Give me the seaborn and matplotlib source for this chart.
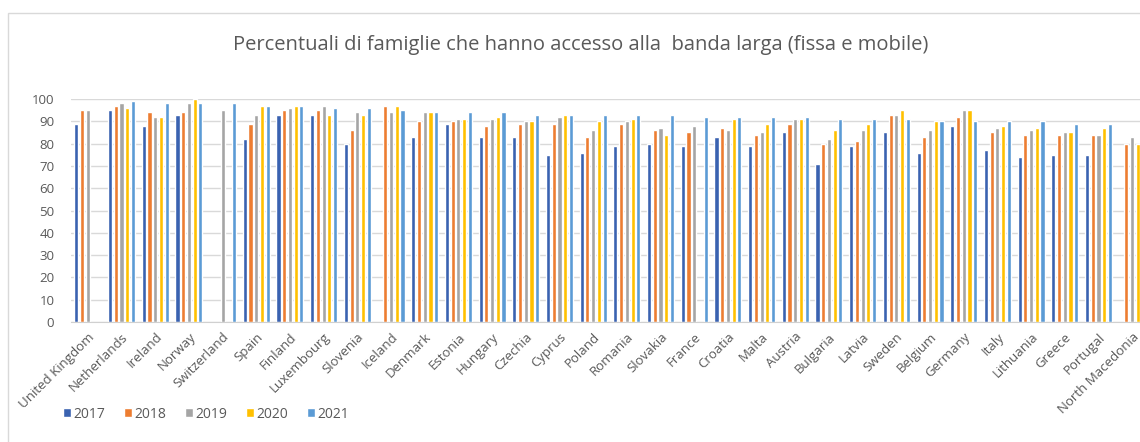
import numpy as np
import pandas as pd
import matplotlib
matplotlib.use("Agg")
import matplotlib.pyplot as plt
from matplotlib.patches import Rectangle
import seaborn as sns

nan = np.nan

countries = ["United Kingdom", "Netherlands", "Ireland", "Norway", "Switzerland", "Spain",
             "Finland", "Luxembourg", "Slovenia", "Iceland", "Denmark", "Estonia", "Hungary",
             "Czechia", "Cyprus", "Poland", "Romania", "Slovakia", "France", "Croatia", "Malta",
             "Austria", "Bulgaria", "Latvia", "Sweden", "Belgium", "Germany", "Italy",
             "Lithuania", "Greece", "Portugal", "North Macedonia"]

years = ["2017", "2018", "2019", "2020", "2021"]

y2017 = [89, 95, 88, 93, nan, 82, 93, 93, 80, nan, 83, 89, 83, 83, 75, 76, 79, 80, 79, 83,
         79, 85, 71, 79, 85, 76, 88, 77, 74, 75, 75, nan]
y2018 = [95, 97, 94, 94, nan, 89, 95, 95, 86, 97, 90, 90, 88, 89, 89, 83, 89, 86, 85, 87,
         84, 89, 80, 81, 93, 83, 92, 85, 84, 84, 84, 80]
y2019 = [95, 98, 92, 98, 95, 93, 96, 97, 94, 94, 94, 91, 91, 90, 92, 86, 90, 87, 88, 86,
         85, 91, 82, 86, 93, 86, 95, 87, 86, 85, 84, 83]
y2020 = [nan, 96, 92, 100, nan, 97, 97, 93, 93, 97, 94, 91, 92, 90, 93, 90, 91, 84, nan, 91,
         89, 91, 86, 89, 95, 90, 95, 88, 87, 85, 87, 80]
y2021 = [nan, 99, 98, 98, 98, 97, 97, 96, 96, 95, 94, 94, 94, 93, 93, 93, 93, 93, 92, 92,
         92, 92, 91, 91, 91, 90, 90, 90, 90, 89, 89, nan]

colors = ["#3A62B0", "#ED7D31", "#A5A5A5", "#FFC000", "#5B9BD5"]

title = "Percentuali di famiglie che hanno accesso alla  banda larga (fissa e mobile)"

series = {"2017": y2017, "2018": y2018, "2019": y2019, "2020": y2020, "2021": y2021}
rows = []
for yr in years:
    for c, v in zip(countries, series[yr]):
        rows.append({"country": c, "year": yr, "value": v})
df = pd.DataFrame(rows)

sns.set_style("white")
plt.rcParams["font.family"] = ["Open Sans", "DejaVu Sans"]

W, H = 1140, 442
fig = plt.figure(figsize=(W / 100, H / 100), dpi=100)
fig.patch.set_facecolor("white")

# chart border
fig.add_artist(Rectangle((8 / W, -0.05), 1.2, (H - 13) / H + 0.05,
                         transform=fig.transFigure, fill=False,
                         edgecolor="#D9D9D9", linewidth=1.0))

left_px, right_px = 71, 1149
top_px, bot_px = 99, 322
ax = fig.add_axes([left_px / W, (H - bot_px) / H, (right_px - left_px) / W, (bot_px - top_px) / H])

sns.barplot(data=df, x="country", y="value", hue="year", hue_order=years,
            order=countries, palette=colors, width=0.85, gap=0.28,
            errorbar=None, saturation=1, ax=ax, zorder=3)

ax.set_xlim(-0.5, len(countries) - 0.5)
ax.set_ylim(0, 100)
ax.set_yticks(range(0, 101, 10))
ax.yaxis.grid(True, color="#D9D9D9", linewidth=1.0, zorder=0)
ax.set_axisbelow(True)
for s in ["top", "right", "left"]:
    ax.spines[s].set_visible(False)
ax.spines["bottom"].set_color("#D0D0D0")
ax.spines["bottom"].set_zorder(4)
ax.set_xlabel("")
ax.set_ylabel("")
ax.tick_params(axis="y", length=0, labelsize=9.5, labelcolor="#595959", pad=12)
ax.tick_params(axis="x", length=0, labelsize=9.5, labelcolor="#595959", pad=6)
plt.setp(ax.get_xticklabels(), rotation=45, ha="right", rotation_mode="anchor")

# legend
handles, labels = ax.get_legend_handles_labels()
ax.get_legend().remove()
fig.legend(handles, labels, loc="center left", bbox_to_anchor=(50 / W, (H - 414) / H),
           ncol=5, frameon=False, fontsize=10, handlelength=0.6, handleheight=0.6,
           handletextpad=0.2, columnspacing=1.3, labelcolor="#595959")

fig.text(581 / W, (H - 45) / H, title, ha="center", va="center",
         fontsize=14.5, color="#595959")

fig.savefig("out.png", dpi=100, facecolor="white")
